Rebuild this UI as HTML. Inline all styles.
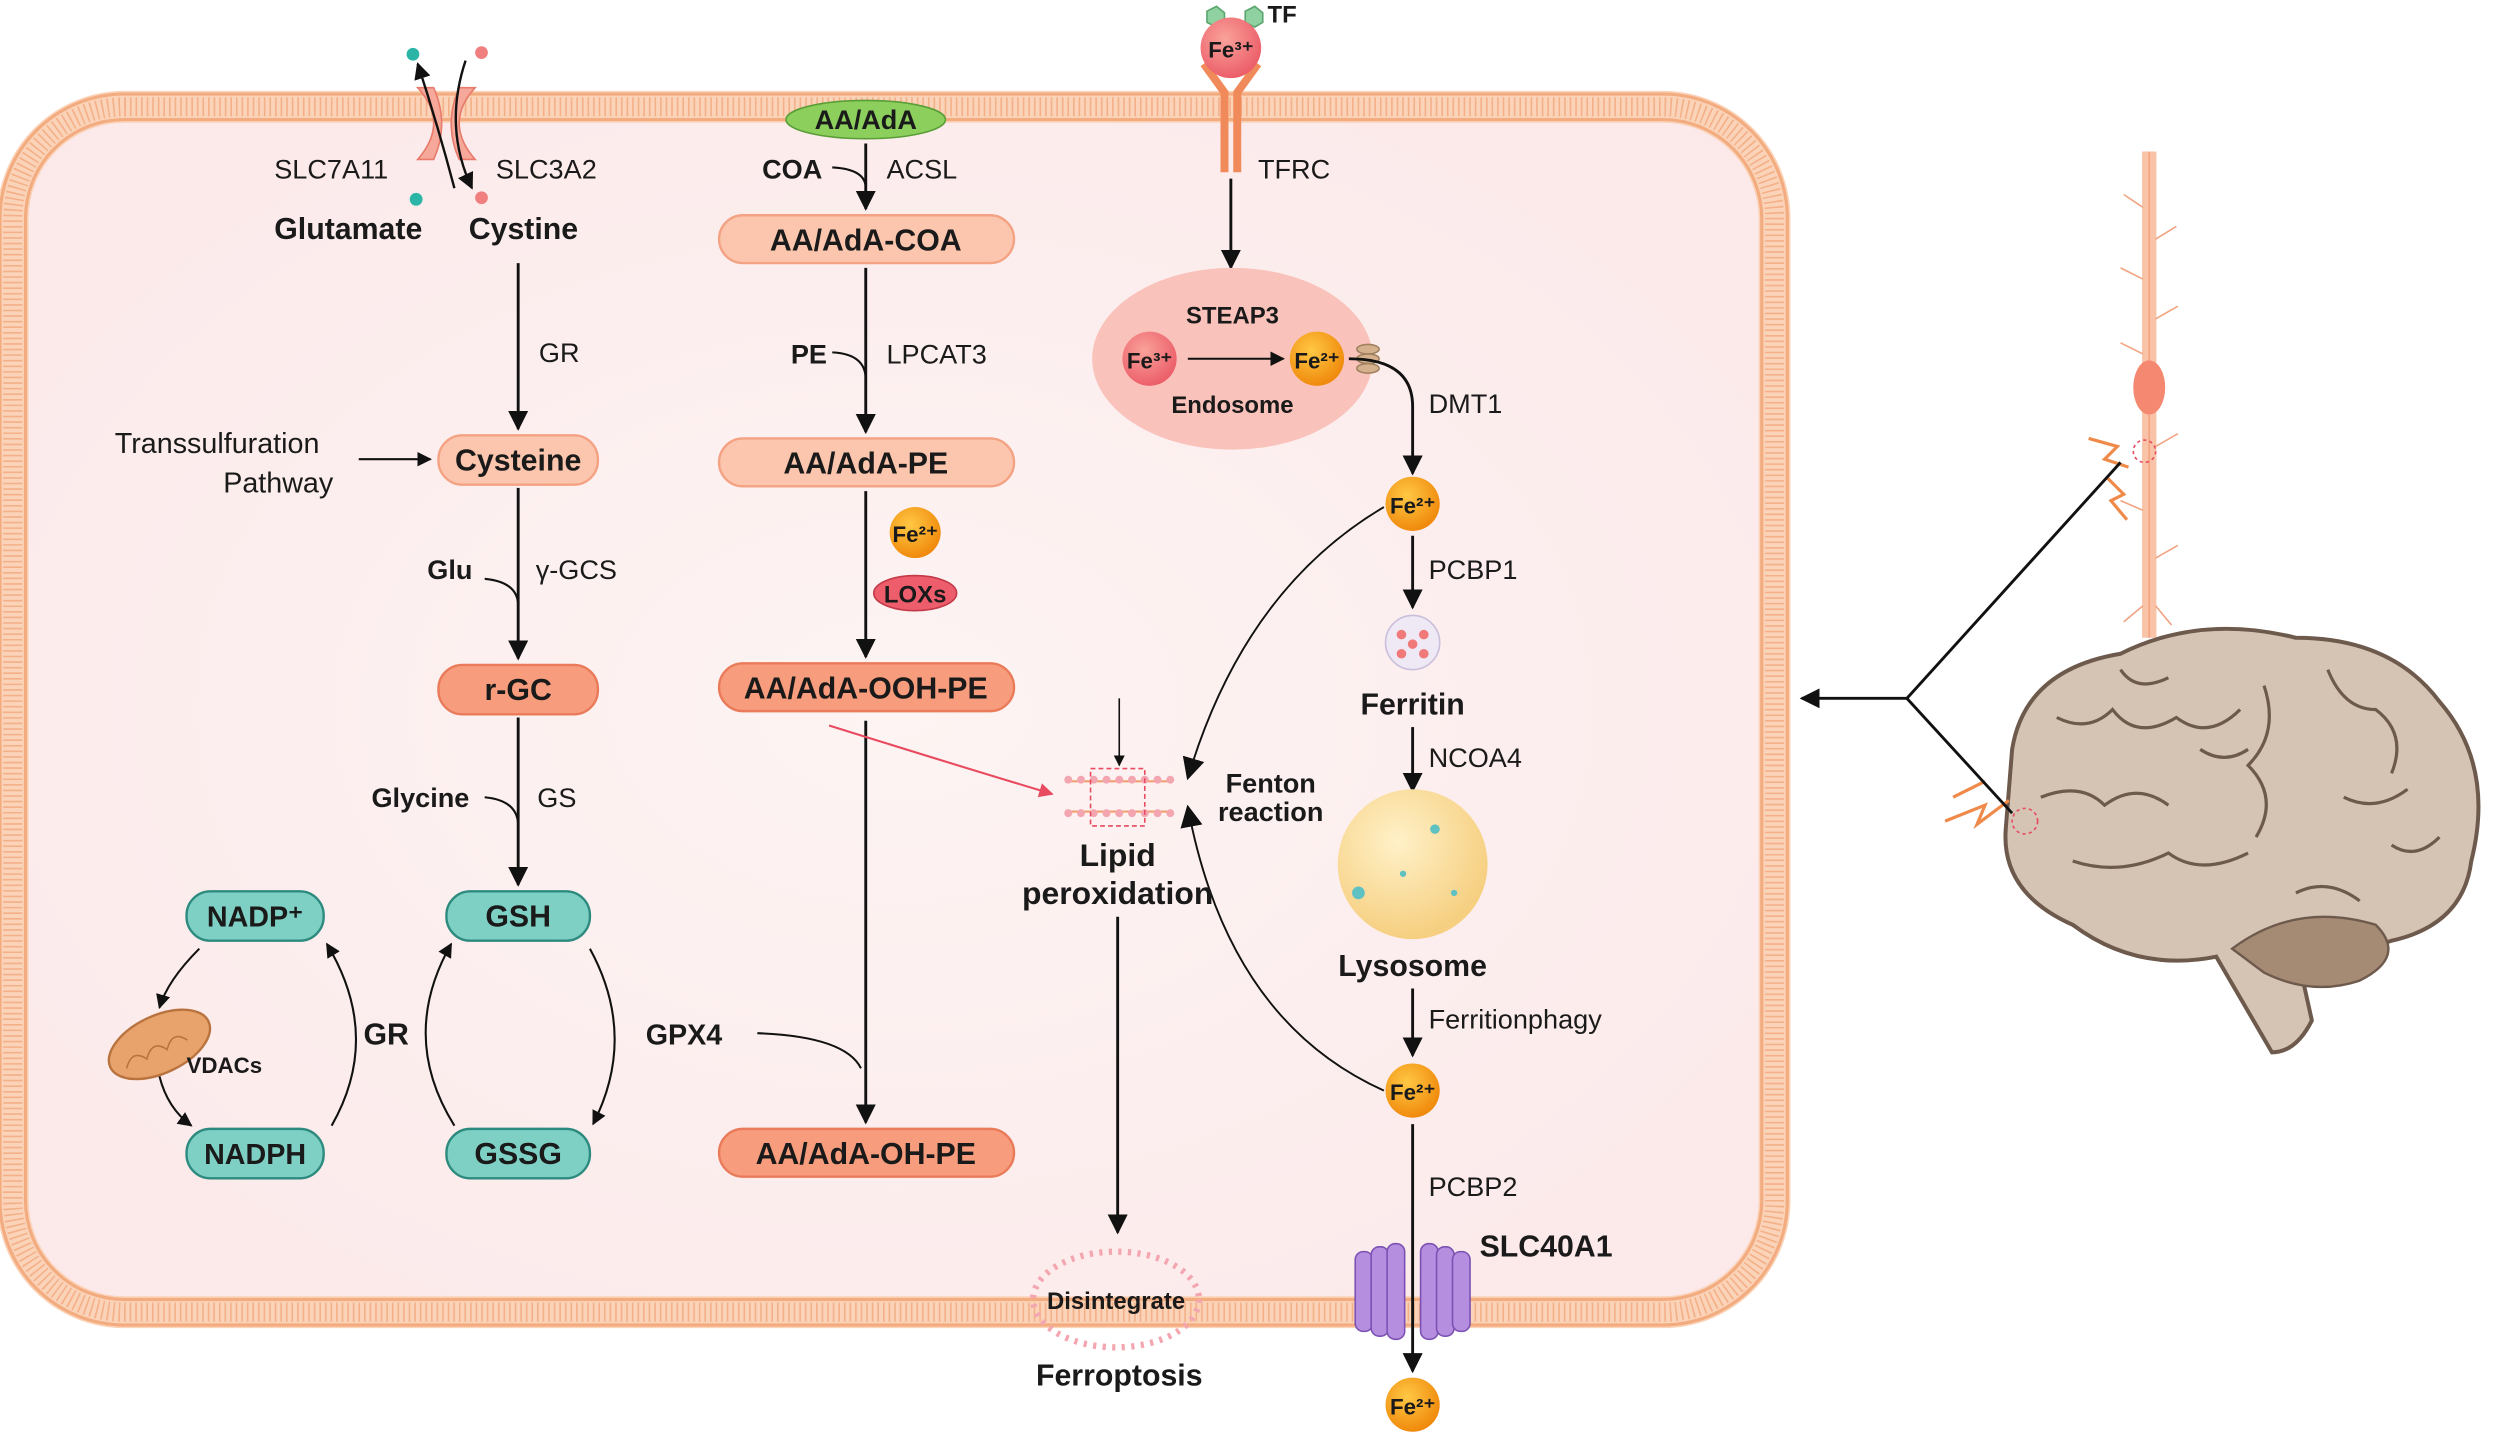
<!DOCTYPE html>
<html><head><meta charset="utf-8"><style>
html,body{margin:0;padding:0;background:#fff;}
svg{display:block;}
text{font-family:"Liberation Sans",Arial,sans-serif;fill:#1a1a1a;}
.b{font-weight:bold;}
</style></head><body>
<svg width="2500" height="1435" viewBox="0 0 1568 900" preserveAspectRatio="none" xmlns="http://www.w3.org/2000/svg">
<defs>
<marker id="ar" viewBox="0 0 10 10" refX="9" refY="5" markerWidth="7" markerHeight="7" orient="auto-start-reverse"><path d="M0,0 L10,5 L0,10 z" fill="#111"/></marker>
<marker id="arb" viewBox="0 0 10 10" refX="9" refY="5" markerWidth="14" markerHeight="14" markerUnits="userSpaceOnUse" orient="auto"><path d="M0,0 L10,5 L0,10 z" fill="#111"/></marker>
<marker id="arr" viewBox="0 0 10 10" refX="9" refY="5" markerWidth="7" markerHeight="7" orient="auto"><path d="M0,0 L10,5 L0,10 z" fill="#e84a5f"/></marker>
<radialGradient id="fe2" cx="40%" cy="35%" r="65%"><stop offset="0" stop-color="#ffc845"/><stop offset="1" stop-color="#f08a0c"/></radialGradient>
<radialGradient id="fe3" cx="40%" cy="35%" r="65%"><stop offset="0" stop-color="#f9a29a"/><stop offset="1" stop-color="#ec5f6a"/></radialGradient>
<radialGradient id="lys" cx="40%" cy="35%" r="65%"><stop offset="0" stop-color="#fff1c8"/><stop offset="1" stop-color="#f6cf80"/></radialGradient>
<radialGradient id="cell" cx="50%" cy="50%" r="70%"><stop offset="0" stop-color="#fdf4f3"/><stop offset="1" stop-color="#fce8e9"/></radialGradient>
</defs>

<!-- Cell -->
<rect x="8" y="67" width="1105" height="756" rx="70" fill="url(#cell)" stroke="#fad3b8" stroke-width="20"/>
<rect x="8" y="67" width="1105" height="756" rx="70" fill="none" stroke="#f4b088" stroke-width="12" stroke-dasharray="1 2.5"/>
<rect x="0" y="59" width="1121" height="772" rx="78" fill="none" stroke="#f3ac80" stroke-width="2"/>
<rect x="16" y="75" width="1089" height="740" rx="62" fill="none" stroke="#f3ac80" stroke-width="2"/>

<!-- Transporter -->
<path d="M262,55 q20,22 0,45 h10 q10,-22 0,-45z" fill="#f6a99a" stroke="#e77a6a"/>
<path d="M298,55 q-20,22 0,45 h-10 q-10,-22 0,-45z" fill="#f6a99a" stroke="#e77a6a"/>
<circle cx="259" cy="34" r="4" fill="#2bb5a7"/><circle cx="302" cy="33" r="4" fill="#f08080"/>
<circle cx="261" cy="125" r="4" fill="#2bb5a7"/><circle cx="302" cy="124" r="4" fill="#f08080"/>
<path d="M285,118 Q275,80 262,40" fill="none" stroke="#111" stroke-width="1.5" marker-end="url(#ar)"/>
<path d="M292,38 Q278,80 296,118" fill="none" stroke="#111" stroke-width="1.5" marker-end="url(#ar)"/>
<text x="172" y="112" font-size="17">SLC7A11</text>
<text x="311" y="112" font-size="17">SLC3A2</text>
<text x="172" y="150" font-size="19" class="b">Glutamate</text>
<text x="294" y="150" font-size="19" class="b">Cystine</text>

<!-- Left column -->
<g stroke="#111" stroke-width="1.8" fill="none">
<line x1="325" y1="165" x2="325" y2="269" marker-end="url(#ar)"/>
<line x1="225" y1="288" x2="270" y2="288" stroke-width="1.3" marker-end="url(#ar)"/>
<line x1="325" y1="306" x2="325" y2="413" marker-end="url(#ar)"/>
<path d="M304,363 Q325,365 325,380" stroke-width="1.3"/>
<line x1="325" y1="450" x2="325" y2="555" marker-end="url(#ar)"/>
<path d="M304,500 Q325,502 325,518" stroke-width="1.3"/>
</g>
<text x="338" y="227" font-size="17">GR</text>
<text x="72" y="284" font-size="18">Transsulfuration</text>
<text x="140" y="309" font-size="18">Pathway</text>
<text x="268" y="363" font-size="17" class="b">Glu</text>
<text x="336" y="363" font-size="17">γ-GCS</text>
<text x="233" y="506" font-size="17" class="b">Glycine</text>
<text x="337" y="506" font-size="17">GS</text>

<rect x="275" y="273" width="100" height="31" rx="15" fill="#fcc6ae" stroke="#f3a283" stroke-width="1.5"/>
<text x="325" y="295" font-size="19" class="b" text-anchor="middle">Cysteine</text>
<rect x="275" y="417" width="100" height="31" rx="15" fill="#f79c7c" stroke="#ea7b5a" stroke-width="1.5"/>
<text x="325" y="439" font-size="19" class="b" text-anchor="middle">r-GC</text>

<g fill="#7fd0c4" stroke="#2d8a7e" stroke-width="1.5">
<rect x="280" y="559" width="90" height="31" rx="15"/>
<rect x="280" y="708" width="90" height="31" rx="15"/>
<rect x="117" y="559" width="86" height="31" rx="15"/>
<rect x="117" y="708" width="86" height="31" rx="15"/>
</g>
<text x="325" y="581" font-size="19" class="b" text-anchor="middle">GSH</text>
<text x="325" y="730" font-size="19" class="b" text-anchor="middle">GSSG</text>
<text x="160" y="581" font-size="18" class="b" text-anchor="middle">NADP⁺</text>
<text x="160" y="730" font-size="18" class="b" text-anchor="middle">NADPH</text>
<g stroke="#111" stroke-width="1.3" fill="none">
<path d="M370,595 Q400,650 372,705" marker-end="url(#ar)"/>
<path d="M285,706 Q250,650 283,592" marker-end="url(#ar)"/>
<path d="M208,706 Q240,650 205,592" marker-end="url(#ar)"/>
<path d="M125,595 Q105,615 100,632" marker-end="url(#ar)"/>
<path d="M100,675 Q105,695 120,706" marker-end="url(#ar)"/>
</g>
<text x="228" y="655" font-size="19" class="b">GR</text>
<ellipse cx="100" cy="655" rx="34" ry="18" transform="rotate(-25 100 655)" fill="#e7a36b" stroke="#b8733f" stroke-width="1.5"/>
<path d="M75,660 q8,-10 14,0 q8,-10 14,0 q8,-10 14,0" transform="rotate(-25 100 655)" fill="none" stroke="#b8733f"/>
<text x="117" y="673" font-size="14" class="b">VDACs</text>

<!-- Middle column -->
<ellipse cx="543" cy="75" rx="50" ry="12" fill="#8ccf5c" stroke="#5a9e38"/>
<text x="543" y="81" font-size="17" class="b" text-anchor="middle">AA/AdA</text>
<g stroke="#111" stroke-width="1.8" fill="none">
<line x1="543" y1="90" x2="543" y2="131" marker-end="url(#ar)"/>
<path d="M522,105 Q543,106 543,118" stroke-width="1.3"/>
<line x1="543" y1="168" x2="543" y2="271" marker-end="url(#ar)"/>
<path d="M522,221 Q543,222 543,238" stroke-width="1.3"/>
<line x1="543" y1="308" x2="543" y2="412" marker-end="url(#ar)"/>
<line x1="543" y1="452" x2="543" y2="704" marker-end="url(#ar)"/>
<path d="M475,648 Q530,650 540,670" stroke-width="1.3"/>
</g>
<text x="478" y="112" font-size="17" class="b">COA</text>
<text x="556" y="112" font-size="17">ACSL</text>
<text x="496" y="228" font-size="17" class="b">PE</text>
<text x="556" y="228" font-size="17">LPCAT3</text>
<text x="405" y="655" font-size="18" class="b">GPX4</text>
<g stroke-width="1.5">
<rect x="451" y="135" width="185" height="30" rx="15" fill="#fcc6ae" stroke="#f3a283"/>
<rect x="451" y="275" width="185" height="30" rx="15" fill="#fcc6ae" stroke="#f3a283"/>
<rect x="451" y="416" width="185" height="30" rx="15" fill="#f79c7c" stroke="#ea7b5a"/>
<rect x="451" y="708" width="185" height="30" rx="15" fill="#f79c7c" stroke="#ea7b5a"/>
</g>
<text x="543" y="157" font-size="19" class="b" text-anchor="middle">AA/AdA-COA</text>
<text x="543" y="297" font-size="19" class="b" text-anchor="middle">AA/AdA-PE</text>
<text x="543" y="438" font-size="19" class="b" text-anchor="middle">AA/AdA-OOH-PE</text>
<text x="543" y="730" font-size="19" class="b" text-anchor="middle">AA/AdA-OH-PE</text>
<circle cx="574" cy="334" r="16" fill="url(#fe2)"/>
<text x="574" y="340" font-size="14" class="b" text-anchor="middle">Fe²⁺</text>
<ellipse cx="574" cy="372" rx="26" ry="11" fill="#ee5d6c" stroke="#c23a48"/>
<text x="574" y="378" font-size="15" class="b" text-anchor="middle">LOXs</text>

<!-- TFRC -->
<polygon points="757,7 763,4 768,8 768,14 763,17 757,14" fill="#8fd1a0" stroke="#5aa56e"/>
<polygon points="781,7 787,4 792,8 792,14 787,17 781,14" fill="#8fd1a0" stroke="#5aa56e"/>
<text x="795" y="14" font-size="15" class="b">TF</text>
<path d="M755,40 L768,58 L768,108 M789,40 L776,58 L776,108" fill="none" stroke="#f08a5a" stroke-width="5"/>
<circle cx="772" cy="30" r="19" fill="url(#fe3)"/>
<text x="772" y="36" font-size="14" class="b" text-anchor="middle">Fe³⁺</text>
<text x="789" y="112" font-size="17">TFRC</text>
<line x1="772" y1="112" x2="772" y2="168" stroke="#111" stroke-width="1.8" marker-end="url(#ar)"/>
<ellipse cx="773" cy="225" rx="88" ry="57" fill="#f9c2ba"/>
<text x="773" y="203" font-size="15" class="b" text-anchor="middle">STEAP3</text>
<text x="773" y="259" font-size="15" class="b" text-anchor="middle">Endosome</text>
<circle cx="721" cy="225" r="17" fill="url(#fe3)"/>
<text x="721" y="231" font-size="14" class="b" text-anchor="middle">Fe³⁺</text>
<circle cx="826" cy="225" r="17" fill="url(#fe2)"/>
<text x="826" y="231" font-size="14" class="b" text-anchor="middle">Fe²⁺</text>
<line x1="745" y1="225" x2="805" y2="225" stroke="#111" stroke-width="1.3" marker-end="url(#ar)"/>
<g fill="#d4b08c" stroke="#a0805e"><ellipse cx="858" cy="219" rx="7" ry="3"/><ellipse cx="858" cy="225" rx="7" ry="3"/><ellipse cx="858" cy="231" rx="7" ry="3"/></g>
<path d="M846,225 Q886,225 886,255 L886,297" fill="none" stroke="#111" stroke-width="1.8" marker-end="url(#ar)"/>
<text x="896" y="259" font-size="17">DMT1</text>
<circle cx="886" cy="316" r="17" fill="url(#fe2)"/>
<text x="886" y="322" font-size="14" class="b" text-anchor="middle">Fe²⁺</text>
<line x1="886" y1="336" x2="886" y2="381" stroke="#111" stroke-width="1.8" marker-end="url(#ar)"/>
<text x="896" y="363" font-size="17">PCBP1</text>
<circle cx="886" cy="403" r="17" fill="#efe9f5" stroke="#c9bfdc"/>
<g fill="#f07a7a"><circle cx="879" cy="398" r="3"/><circle cx="893" cy="398" r="3"/><circle cx="886" cy="404" r="3"/><circle cx="879" cy="410" r="3"/><circle cx="893" cy="410" r="3"/></g>
<text x="886" y="448" font-size="19" class="b" text-anchor="middle">Ferritin</text>
<line x1="886" y1="456" x2="886" y2="496" stroke="#111" stroke-width="1.8" marker-end="url(#ar)"/>
<text x="896" y="481" font-size="17">NCOA4</text>
<circle cx="886" cy="542" r="47" fill="url(#lys)"/>
<g fill="#5fc1c2"><circle cx="852" cy="560" r="4"/><circle cx="900" cy="520" r="3"/><circle cx="880" cy="548" r="2"/><circle cx="912" cy="560" r="2"/></g>
<text x="886" y="612" font-size="19" class="b" text-anchor="middle">Lysosome</text>
<line x1="886" y1="620" x2="886" y2="662" stroke="#111" stroke-width="1.8" marker-end="url(#ar)"/>
<text x="896" y="645" font-size="17">Ferritionphagy</text>
<circle cx="886" cy="684" r="17" fill="url(#fe2)"/>
<text x="886" y="690" font-size="14" class="b" text-anchor="middle">Fe²⁺</text>
<text x="896" y="750" font-size="17">PCBP2</text>
<!-- SLC40A1 -->
<g fill="#b58ee0" stroke="#7b52b3">
<rect x="850" y="785" width="11" height="50" rx="5"/><rect x="860" y="782" width="11" height="56" rx="5"/><rect x="870" y="780" width="11" height="60" rx="5"/>
<rect x="891" y="780" width="11" height="60" rx="5"/><rect x="901" y="782" width="11" height="56" rx="5"/><rect x="911" y="785" width="11" height="50" rx="5"/>
</g>
<line x1="886" y1="705" x2="886" y2="860" stroke="#111" stroke-width="1.8" marker-end="url(#ar)"/>
<text x="928" y="788" font-size="19" class="b">SLC40A1</text>
<circle cx="886" cy="881" r="17" fill="url(#fe2)"/>
<text x="886" y="887" font-size="14" class="b" text-anchor="middle">Fe²⁺</text>

<!-- Lipid peroxidation -->
<g stroke="#f2a070" stroke-width="1.3">
<line x1="668" y1="490" x2="736" y2="490"/><line x1="668" y1="509" x2="736" y2="509"/>
</g>
<g fill="#f4a6b0">
<circle cx="670" cy="489" r="2.5"/><circle cx="678" cy="489" r="2.5"/><circle cx="686" cy="489" r="2.5"/><circle cx="694" cy="489" r="2.5"/><circle cx="702" cy="489" r="2.5"/><circle cx="710" cy="489" r="2.5"/><circle cx="718" cy="489" r="2.5"/><circle cx="726" cy="489" r="2.5"/><circle cx="734" cy="489" r="2.5"/>
<circle cx="670" cy="510" r="2.5"/><circle cx="678" cy="510" r="2.5"/><circle cx="686" cy="510" r="2.5"/><circle cx="694" cy="510" r="2.5"/><circle cx="702" cy="510" r="2.5"/><circle cx="710" cy="510" r="2.5"/><circle cx="718" cy="510" r="2.5"/><circle cx="726" cy="510" r="2.5"/><circle cx="734" cy="510" r="2.5"/>
</g>
<rect x="684" y="482" width="34" height="36" fill="none" stroke="#e84a5f" stroke-dasharray="3 2"/>
<line x1="702" y1="438" x2="702" y2="480" stroke="#111" stroke-width="1" marker-end="url(#ar)"/>
<path d="M520,455 Q600,480 660,498" fill="none" stroke="#e84a5f" stroke-width="1.3" marker-end="url(#arr)"/>
<path d="M868,318 Q780,370 745,488" fill="none" stroke="#111" stroke-width="1.2" marker-end="url(#arb)"/>
<path d="M868,684 Q770,640 745,506" fill="none" stroke="#111" stroke-width="1.2" marker-end="url(#arb)"/>
<text x="797" y="497" font-size="17" class="b" text-anchor="middle">Fenton</text>
<text x="797" y="515" font-size="17" class="b" text-anchor="middle">reaction</text>
<text x="701" y="543" font-size="20" class="b" text-anchor="middle">Lipid</text>
<text x="701" y="567" font-size="20" class="b" text-anchor="middle">peroxidation</text>
<line x1="701" y1="575" x2="701" y2="773" stroke="#111" stroke-width="1.8" marker-end="url(#ar)"/>
<ellipse cx="700" cy="815" rx="52" ry="30" fill="none" stroke="#f4a6b0" stroke-width="4" stroke-dasharray="2 4"/>
<text x="700" y="821" font-size="15" class="b" text-anchor="middle">Disintegrate</text>
<text x="702" y="869" font-size="19" class="b" text-anchor="middle">Ferroptosis</text>

<!-- Neuron -->
<line x1="1348" y1="95" x2="1348" y2="400" stroke="#f9c3a8" stroke-width="9"/>
<line x1="1348" y1="95" x2="1348" y2="400" stroke="#f2a380" stroke-width="1"/>
<g stroke="#f2a380" stroke-width="1">
<line x1="1344" y1="130" x2="1332" y2="122"/><line x1="1352" y1="150" x2="1365" y2="142"/><line x1="1344" y1="175" x2="1330" y2="168"/><line x1="1352" y1="200" x2="1366" y2="192"/><line x1="1344" y1="222" x2="1330" y2="215"/><line x1="1352" y1="280" x2="1366" y2="272"/><line x1="1344" y1="320" x2="1330" y2="314"/><line x1="1352" y1="350" x2="1366" y2="342"/><line x1="1344" y1="380" x2="1332" y2="390"/><line x1="1352" y1="380" x2="1362" y2="392"/>
</g>
<ellipse cx="1348" cy="243" rx="10" ry="17" fill="#f58870"/>
<circle cx="1345" cy="283" r="7" fill="none" stroke="#e84a5f" stroke-dasharray="2 2"/>
<path d="M1310,275 l18,5 l-8,8 l15,5" fill="none" stroke="#f08a4a" stroke-width="2"/>
<path d="M1322,300 l10,10 l-8,4 l10,12" fill="none" stroke="#f08a4a" stroke-width="2"/>
<!-- Brain -->
<path d="M1262,470 Q1270,420 1330,410 Q1380,385 1440,400 Q1500,400 1530,440 Q1565,480 1550,540 Q1545,580 1500,590 Q1470,600 1440,595 L1450,640 Q1440,660 1425,660 L1390,600 Q1340,610 1300,580 Q1255,560 1258,520 Z" fill="#d5c3b4" stroke="#6e5a4c" stroke-width="2.5"/>
<g fill="none" stroke="#6e5a4c" stroke-width="2">
<path d="M1290,450 q20,10 35,-5 q15,20 40,5 q20,15 40,-5"/><path d="M1280,500 q25,-10 40,5 q20,-15 40,0"/><path d="M1420,430 q10,30 -10,50 q20,20 5,45"/><path d="M1460,420 q10,25 30,25 q20,15 10,40"/><path d="M1300,540 q30,10 60,-5 q20,15 50,0"/><path d="M1470,500 q20,10 40,-5"/>
<path d="M1330,420 q10,15 30,5"/><path d="M1380,470 q15,10 30,0"/><path d="M1500,530 q15,10 30,-5"/><path d="M1440,560 q20,-10 40,5"/>
</g>
<path d="M1400,595 Q1440,565 1490,580 Q1510,600 1480,615 Q1450,625 1420,610 Z" fill="#a58a74" stroke="#6e5a4c" stroke-width="1.5"/>
<circle cx="1270" cy="515" r="8" fill="none" stroke="#e84a5f" stroke-dasharray="2 2"/>
<path d="M1220,515 l25,-10 l-5,12 l20,-15" fill="none" stroke="#f08a4a" stroke-width="2"/>
<path d="M1225,500 l20,-10" fill="none" stroke="#f08a4a" stroke-width="2"/>
<!-- connector -->
<g stroke="#111" stroke-width="1.8" fill="none">
<line x1="1196" y1="438" x2="1330" y2="290"/>
<line x1="1196" y1="438" x2="1262" y2="510"/>
<line x1="1196" y1="438" x2="1130" y2="438" marker-end="url(#ar)"/>
</g>
</svg>
</body></html>
